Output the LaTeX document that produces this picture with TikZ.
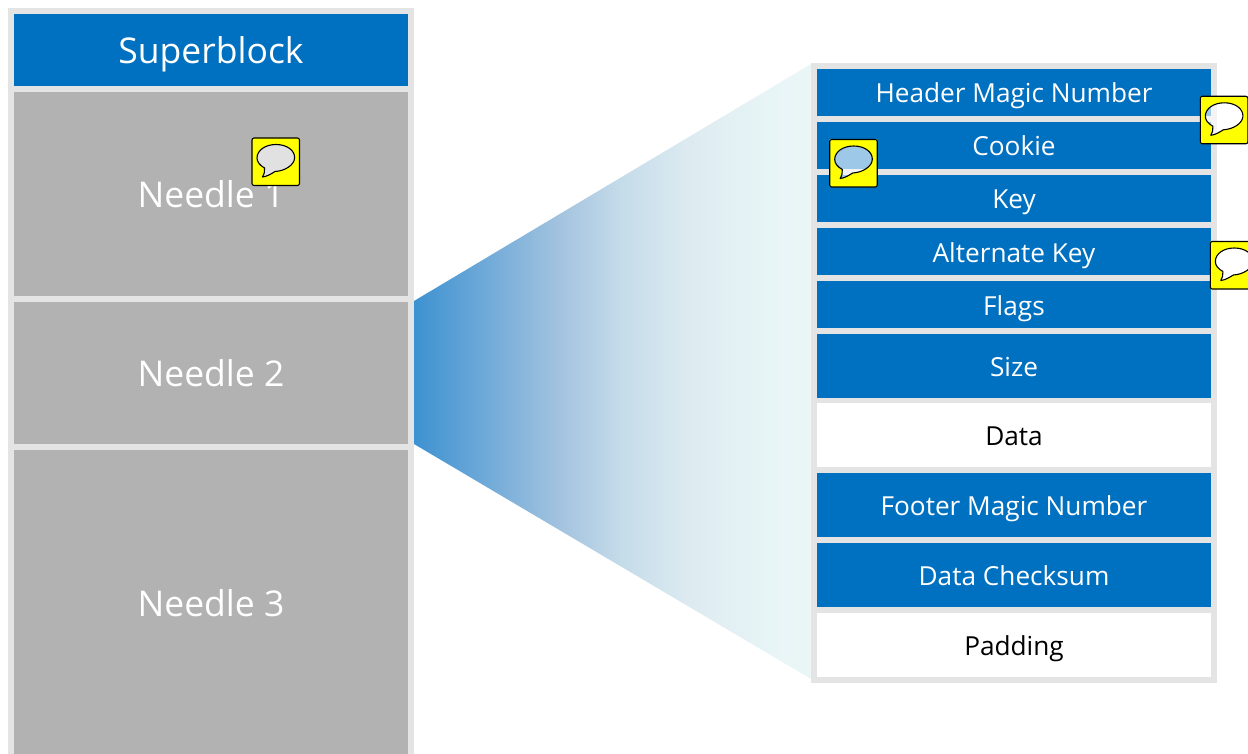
\documentclass[tikz,border=0pt]{standalone}
\usepackage{fontspec}
\setmainfont{Open Sans}
\definecolor{frameg}{HTML}{E4E4E4}
\definecolor{cellb}{HTML}{0070C0}
\definecolor{cellg}{HTML}{B2B2B2}
\definecolor{noteyellow}{RGB}{255,255,0}
\pgfdeclarehorizontalshading{wedgeshadeb}{100bp}{
  rgb(0bp)=(0.24,0.57,0.82);
  rgb(25bp)=(0.24,0.57,0.82);
  rgb(43.4bp)=(0.64,0.765,0.875);
  rgb(51bp)=(0.77,0.86,0.915);
  rgb(59.8bp)=(0.867,0.922,0.945);
  rgb(69.8bp)=(0.91,0.96,0.965);
  rgb(75bp)=(0.92,0.965,0.965);
  rgb(100bp)=(0.92,0.965,0.965)
}
\tikzset{
  x=1pt,y=-1pt,
  cellbase/.style={rectangle,draw=none,inner sep=0pt,outer sep=0pt,minimum width=394pt},
  bigtext/.style={text height=27.5pt,text depth=0pt,font=\fontsize{35.5}{40}\selectfont},
  smalltext/.style={text height=21pt,text depth=0pt,font=\fontsize{26.2}{30}\selectfont},
  bigblue/.style={cellbase,bigtext,fill=cellb,text=white},
  biggray/.style={cellbase,bigtext,fill=cellg,text=white},
  smallblue/.style={cellbase,smalltext,fill=cellb,text=white},
  smallwhite/.style={cellbase,smalltext,fill=white,text=black},
  iconbox/.style={draw=black,line width=1.1pt,rounded corners=2pt},
}
\newcommand{\bubblepath}{(24,6.5) .. controls (35,6.5) and (43,12.5) .. (42.6,20) .. controls (42.3,27) and (33,33) .. (23,33.5) .. controls (19,36) and (15,38.5) .. (10.5,39) .. controls (12,36.5) and (13,33.5) .. (12.6,30) .. controls (8,27.5) and (5,24) .. (5,20) .. controls (5,12.5) and (13,6.5) .. (24,6.5) -- cycle}
\newcommand{\noteicon}[3]{%
  \begin{scope}[shift={(#2,#3)}]
    \coordinate (#1) at (24,24);
    \fill[noteyellow,even odd rule] (0,0) rectangle (47.5,47.5) \bubblepath;
    \fill[white,fill opacity=0.62] \bubblepath;
    \draw[black,line width=1.1pt,line join=round] \bubblepath;
    \draw[iconbox] (0,0) rectangle (47.5,47.5);
  \end{scope}}
\begin{document}
\begin{tikzpicture}
\useasboundingbox (0,0) rectangle (1248,754);
\begin{scope}
\clip (0,0) rectangle (1248,754);
\shade[shading=wedgeshadeb] (414,301) -- (811,64) -- (811,679) -- (414,444) -- cycle;
\fill[frameg] (8,8) rectangle (414,770);
\node[bigblue,minimum height=72pt] (sb) at (211,50) {Superblock};
\node[biggray,minimum height=204pt] (n1) at (211,194) {Needle 1};
\node[biggray,minimum height=142pt] (n2) at (211,373) {Needle 2};
\fill[cellg] (14,450) rectangle (408,770);
\node[biggray,fill=none] (n3) at (211,603) {Needle 3};
\fill[frameg] (811,63) rectangle (1217,683);
\node[smallblue,minimum height=47pt] (h) at (1014,92.5) {Header Magic Number};
\node[smallblue,minimum height=47pt] (c) at (1014,145.5) {Cookie};
\node[smallblue,minimum height=47pt] (k) at (1014,198.5) {Key};
\node[smallblue,minimum height=47pt] (a) at (1014,251.5) {Alternate Key};
\node[smallblue,minimum height=47pt] (f) at (1014,304.5) {Flags};
\node[smallblue,minimum height=64pt] (s) at (1014,365.5) {Size};
\node[smallwhite,minimum height=64pt] (d) at (1014,435) {Data};
\node[smallblue,minimum height=64pt] (fm) at (1014,505) {Footer Magic Number};
\node[smallblue,minimum height=64pt] (dc) at (1014,575) {Data Checksum};
\node[smallwhite,minimum height=64pt] (p) at (1014,645) {Padding};
\noteicon{i1}{252}{138}
\noteicon{i2}{829.7}{139.5}
\noteicon{i3}{1200.3}{96.3}
\noteicon{i4}{1210.3}{241.5}
\end{scope}
\end{tikzpicture}
\end{document}
